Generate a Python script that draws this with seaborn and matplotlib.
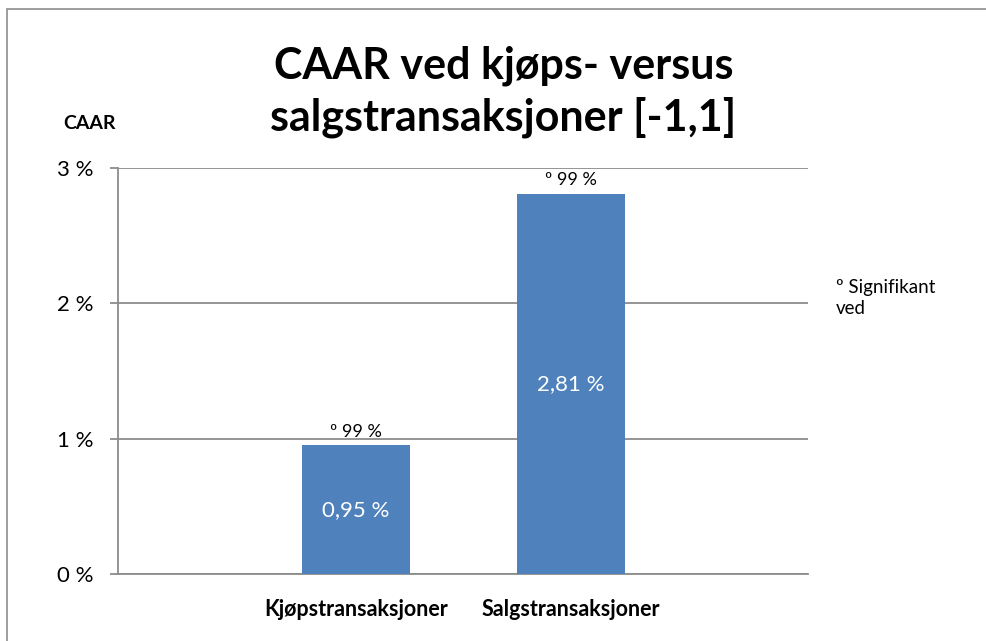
import matplotlib
matplotlib.use("Agg")
import matplotlib.pyplot as plt
import seaborn as sns
import pandas as pd
from matplotlib.ticker import FuncFormatter
from matplotlib.patches import Rectangle

# data
categories = ["Kjøpstransaksjoner", "Salgstransaksjoner"]
caar_values = [0.95, 2.81]
value_labels = ["0,95 %", "2,81 %"]
sig_labels = ["º 99 %", "º 99 %"]
y_ticks = [0, 1, 2, 3]

df = pd.DataFrame({"kategori": categories, "caar": caar_values})

sns.set_theme(style="white")
plt.rcParams["font.family"] = ["Lato", "DejaVu Sans"]
plt.rcParams["text.color"] = "black"
plt.rcParams["xtick.color"] = "black"
plt.rcParams["ytick.color"] = "black"

fig = plt.figure(figsize=(9.87, 6.41), dpi=100)
ax = fig.add_axes([0.1196, 0.1045, 0.699, 0.6334])

# outer chart frame like the Excel chart area
fig.patches.append(Rectangle((7 / 987, -0.05), 1.2, 1 - 9 / 641 + 0.05,
                             transform=fig.transFigure, fill=False,
                             edgecolor="#8c8c8c", linewidth=1.2))

sns.barplot(data=df, x="kategori", y="caar", color="#4F81BD", width=0.502,
            saturation=1, linewidth=0, ax=ax, zorder=3)

ax.set_xlim(-1.107, 2.102)
ax.set_ylim(0, 3)
ax.set_yticks(y_ticks)
ax.yaxis.set_major_formatter(FuncFormatter(lambda v, p: f"{v:.0f} %"))
ax.grid(axis="y", color="#8c8c8c", linewidth=1.3, zorder=0)
ax.set_axisbelow(True)
for s in ["top", "right"]:
    ax.spines[s].set_visible(False)
ax.spines["left"].set_color("#8c8c8c")
ax.spines["bottom"].set_color("#8c8c8c")
ax.spines["left"].set_linewidth(1.3)
ax.spines["bottom"].set_linewidth(1.3)
ax.tick_params(axis="y", which="major", left=True, length=6, color="#8c8c8c",
               labelcolor="black", width=1.3, labelsize=16, pad=12)
ax.tick_params(axis="x", bottom=False, labelsize=15.5, labelcolor="black", pad=12)
for lbl in ax.get_xticklabels():
    lbl.set_fontweight("bold")
ax.set_xlabel("")
ax.set_ylabel("")

for i, v in enumerate(caar_values):
    ax.text(i, v / 2, value_labels[i], ha="center", va="center",
            color="white", fontsize=16)
    ax.text(i, v + 0.04, sig_labels[i], ha="center", va="bottom",
            color="black", fontsize=13)

fig.text(0.51, 0.857, "CAAR ved kjøps- versus\nsalgstransaksjoner [-1,1]",
         ha="center", va="center", fontsize=31, fontweight="bold",
         linespacing=1.3, color="black")
fig.text(0.091, 0.808, "CAAR", ha="center", va="center", fontsize=14,
         fontweight="bold", color="black")
fig.text(0.847, 0.535, "º Signifikant\nved", ha="left", va="center",
         fontsize=13.5, linespacing=1.3, color="black")

fig.savefig("out.png", dpi=100)
